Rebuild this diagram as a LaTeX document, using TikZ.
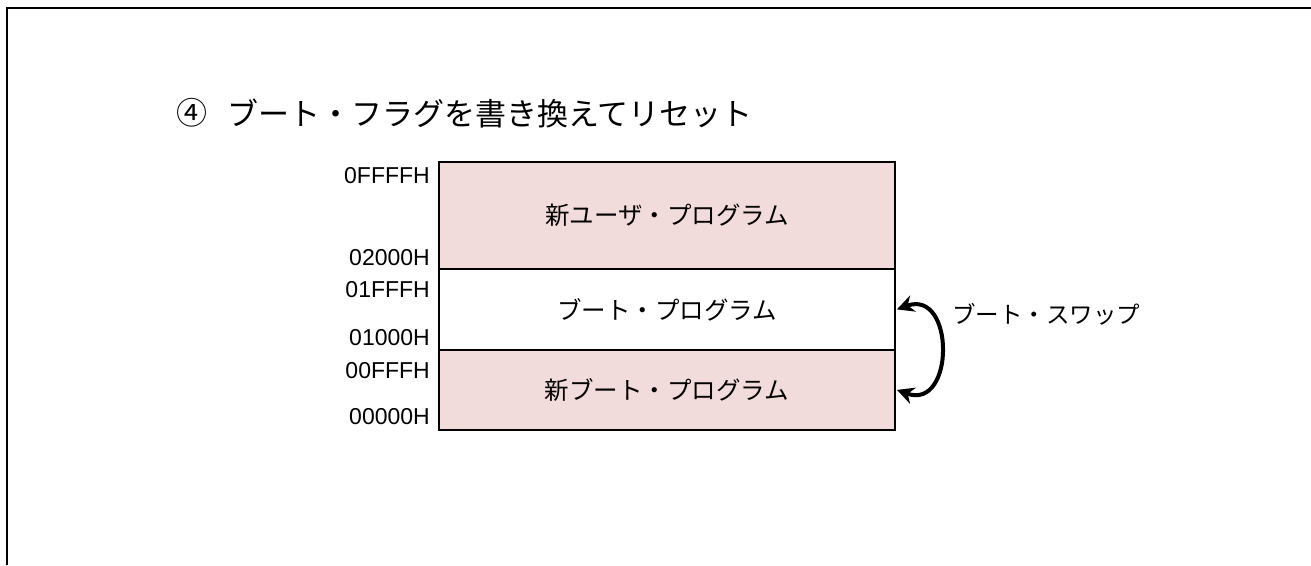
\documentclass[tikz,border=0pt]{standalone}
\usepackage{fontspec}
\setmainfont{Liberation Sans}
\newfontfamily\jpfont{Noto Sans CJK JP}
\usepackage{xcolor}
\usetikzlibrary{arrows.meta,positioning}
\definecolor{mempink}{HTML}{F2DCDB}

\begin{document}
\begin{tikzpicture}[x=1pt, y=-1pt,
        membox/.style={draw, line width=1.8pt, minimum width=456pt, inner sep=0pt, font=\jpfont\fontsize{24.5}{28}\selectfont, anchor=north},
        addrlabel/.style={anchor=east, inner sep=0pt, font=\fontsize{23}{26}\selectfont},
        swaparrow/.style={{Stealth[length=17pt,width=17pt]}-{Stealth[length=17pt,width=17pt]}, line width=4pt},
    ]
    \useasboundingbox (0,0) rectangle (1311,565);
    % Frame (only top and left edge are visible)
    \draw[line width=2.2pt] (7,565) -- (7,8) -- (1311,8);

    % Title
    \node[anchor=west, inner sep=0pt, font=\jpfont\fontsize{31}{34}\selectfont] (num) at (176,113) {④};
    \node[anchor=west, inner sep=0pt, font=\jpfont\fontsize{31}{34}\selectfont] (title) at (227,113) {ブート・フラグを書き換えてリセット};

    % === Memory map ===
    \node[membox, fill=mempink, minimum height=107pt] (usr) at (667,161) {新ユーザ・プログラム};
    \node[membox, fill=white, minimum height=81pt] (boot) at (667,268) {ブート・プログラム};
    \node[membox, fill=mempink, minimum height=80pt] (nboot) at (667,349) {新ブート・プログラム};

    % Addresses
    \node[addrlabel] (a1) at (430,176) {0FFFFH};
    \node[addrlabel] (a2) at (430,258) {02000H};
    \node[addrlabel] (a3) at (430,290) {01FFFH};
    \node[addrlabel] (a4) at (430,338) {01000H};
    \node[addrlabel] (a5) at (430,371) {00FFFH};
    \node[addrlabel] (a6) at (430,417) {00000H};

    % Boot swap
    \draw[swaparrow] ([xshift=1pt]boot.east) .. controls +(-20:62) and +(20:62) .. ([xshift=1pt]nboot.east);
    \node[anchor=west, inner sep=0pt, font=\jpfont\fontsize{23.5}{26}\selectfont] (swap) at (952,314) {ブート・スワップ};

    \end{tikzpicture}
\end{document}
